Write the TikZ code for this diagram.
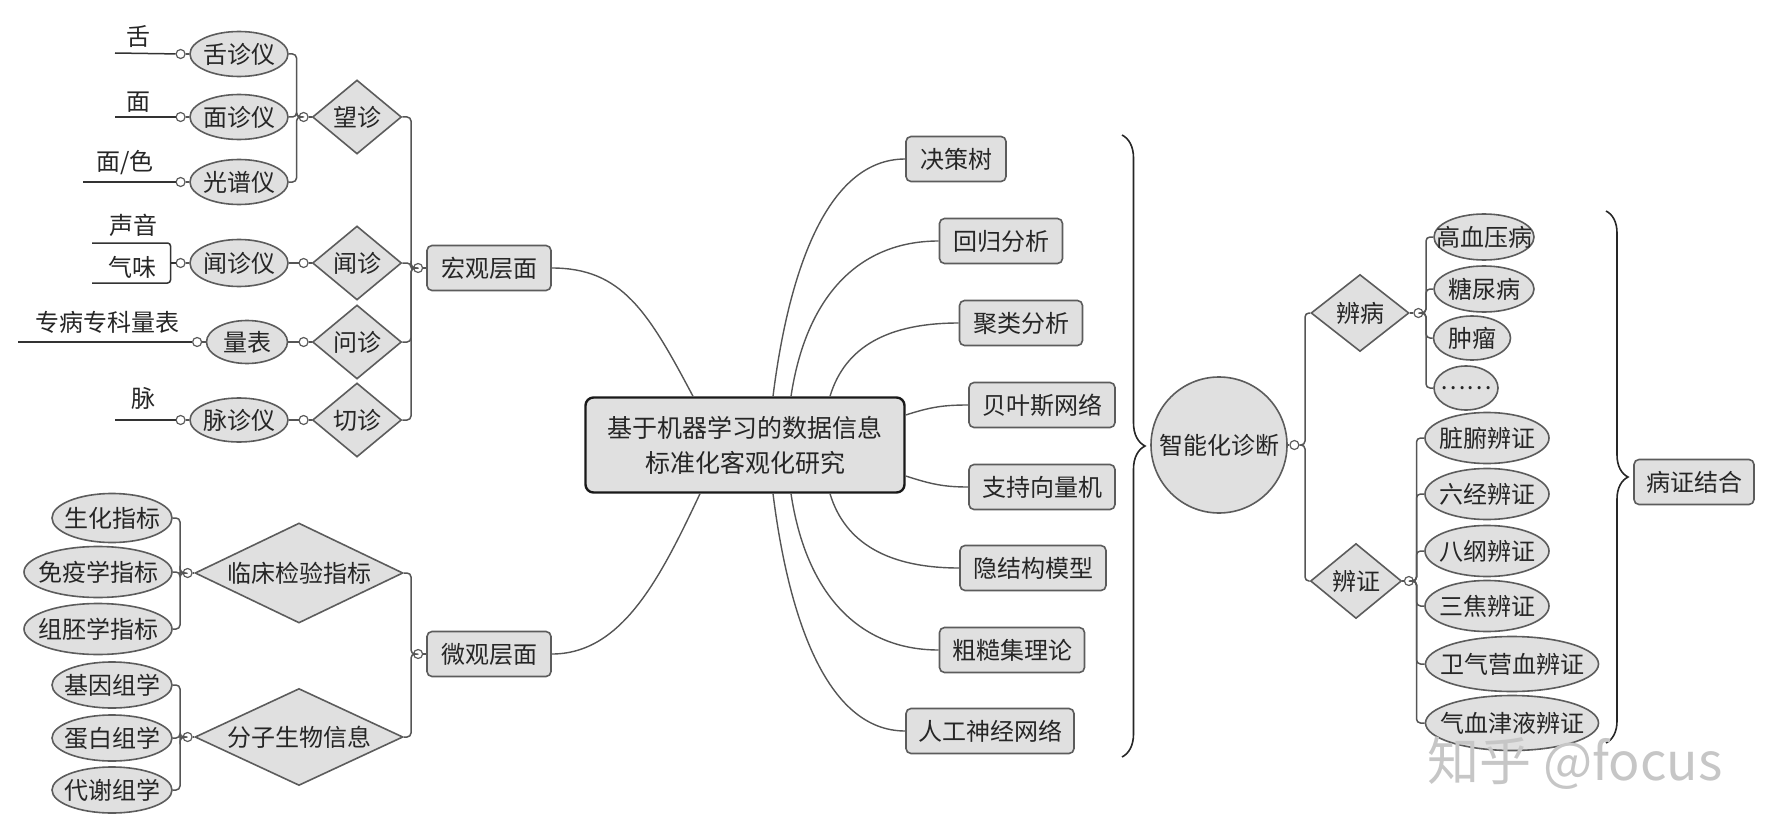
\documentclass[tikz,border=0pt]{standalone}
\usepackage{fontspec}
\setmainfont{Noto Sans CJK SC}
\usetikzlibrary{shapes.geometric, positioning, calc, decorations.pathreplacing}
\definecolor{nodefill}{HTML}{E0E0E0}
\definecolor{nodeline}{HTML}{5C5C5C}
\definecolor{linkcol}{HTML}{555555}

\begin{document}
\begin{tikzpicture}[x=1pt, y=-1pt,
  every node/.style={font=\fontsize{24}{29}\selectfont, text=black!85},
  ell/.style={ellipse, draw=nodeline, fill=nodefill, line width=1.6pt, inner sep=0pt, label={center:#1}},
  dia/.style={diamond, draw=nodeline, fill=nodefill, line width=1.6pt, inner sep=0pt, label={center:#1}},
  rbox/.style={rectangle, rounded corners=5pt, draw=nodeline, fill=nodefill, line width=1.6pt, inner sep=0pt, minimum height=45pt},
  knob/.style={circle, draw=nodeline, fill=white, line width=1.2pt, inner sep=0pt, minimum size=9pt},
  conn/.style={draw=linkcol, line width=1.5pt, rounded corners=4pt},
  lead/.style={draw=black!80, line width=1.5pt, rounded corners=3pt},
  sweep/.style={draw=linkcol, line width=1.4pt},
  brc/.style={draw=black!85, line width=1.6pt, decorate, decoration={brace, amplitude=#1}}]

  \useasboundingbox (0,0) rectangle (1772,832);

  % --- macro level: instruments and the four diagnoses
  \node[ell=舌诊仪, minimum width=98, minimum height=45] (shezhenyi) at (239,54) {};
  \node[ell=面诊仪, minimum width=98, minimum height=45] (mianzhenyi) at (239,117) {};
  \node[ell=光谱仪, minimum width=98, minimum height=45] (guangpuyi) at (239,182) {};
  \node[ell=闻诊仪, minimum width=98, minimum height=47] (wenzhenyi) at (239,263) {};
  \node[ell=量表, minimum width=81, minimum height=43] (liangbiao) at (247,342) {};
  \node[ell=脉诊仪, minimum width=98, minimum height=44] (maizhenyi) at (239,420) {};

  \foreach \e in {shezhenyi, mianzhenyi, guangpuyi, wenzhenyi, liangbiao, maizhenyi} {
    \node[knob, left=3.5pt of \e] (k-\e) {};
    \draw[conn] (k-\e) -- (\e);
  }

  % what each instrument reads
  \node (lb-she) at (138,37) {舌};
  \node (lb-mian) at (138,102) {面};
  \node (lb-mianse) at (125,163) {面/色};
  \node (lb-shengyin) at (133,225) {声音};
  \node (lb-qiwei) at (132,267) {气味};
  \node (lb-liangbiao) at (107,322) {专病专科量表};
  \node (lb-mai) at (143,398) {脉};
  \coordinate (she-end) at (115,53);
  \coordinate (mian-end) at (115,117);
  \coordinate (mianse-end) at (83,182);
  \coordinate (sy-top) at (92,243);
  \coordinate (sy-bot) at (92,283);
  \coordinate (lb-end) at (18,342);
  \coordinate (mai-end) at (115,420);
  \draw[lead] (she-end) -- (k-shezhenyi);
  \draw[lead] (mian-end) -- (k-mianzhenyi);
  \draw[lead] (mianse-end) -- (k-guangpuyi);
  \draw[lead] (sy-top) -| ([xshift=-5pt]k-wenzhenyi.west) |- (sy-bot);
  \draw[lead] ([xshift=-5pt]k-wenzhenyi.west) -- (k-wenzhenyi);
  \draw[lead] (lb-end) -- (k-liangbiao);
  \draw[lead] (mai-end) -- (k-maizhenyi);

  \node[dia=望诊, minimum width=89, minimum height=74] (wangzhen) at (357,117) {};
  \node[dia=闻诊, minimum width=89, minimum height=74] (wenzhen) at (357,263) {};
  \node[dia=问诊, minimum width=89, minimum height=74] (wenzhen2) at (357,342) {};
  \node[dia=切诊, minimum width=89, minimum height=74] (qiezhen) at (357,420) {};
  \foreach \d in {wangzhen, wenzhen, wenzhen2, qiezhen} {
    \node[knob, left=3pt of \d] (k-\d) {};
    \draw[conn] (k-\d) -- (\d);
  }
  \foreach \e in {shezhenyi, mianzhenyi, guangpuyi}
    \draw[conn] (k-wangzhen.west) -- ++(-2,0) |- (\e.east);
  \draw[conn] (wenzhenyi) -- (k-wenzhen);
  \draw[conn] (liangbiao) -- (k-wenzhen2);
  \draw[conn] (maizhenyi) -- (k-qiezhen);

  \node[rbox, minimum width=124] (hongguan) at (489,268) {宏观层面};
  \node[knob, left=3pt of hongguan] (k-hongguan) {};
  \draw[conn] (k-hongguan) -- (hongguan);
  \foreach \d in {wangzhen, wenzhen, wenzhen2, qiezhen}
    \draw[conn] (k-hongguan.west) -- ++(-2,0) |- (\d.east);

  % --- micro level
  \node[ell=生化指标, minimum width=120, minimum height=49] (shenghua) at (112,518) {};
  \node[ell=免疫学指标, minimum width=148, minimum height=51] (mianyi) at (98,572) {};
  \node[ell=组胚学指标, minimum width=148, minimum height=51] (zupei) at (98,629) {};
  \node[ell=基因组学, minimum width=120, minimum height=46] (jiyin) at (112,685) {};
  \node[ell=蛋白组学, minimum width=120, minimum height=46] (danbai) at (112,738) {};
  \node[ell=代谢组学, minimum width=120, minimum height=46] (daixie) at (112,790) {};

  \node[dia=临床检验指标, minimum width=208, minimum height=100] (linchuang) at (299,573) {};
  \node[dia=分子生物信息, minimum width=208, minimum height=97] (fenzi) at (299,737) {};
  \node[knob, left=1.5pt of linchuang] (k-linchuang) {};
  \node[knob, left=1.5pt of fenzi] (k-fenzi) {};
  \draw[conn] (k-linchuang) -- (linchuang);
  \draw[conn] (k-fenzi) -- (fenzi);
  \foreach \e in {shenghua, mianyi, zupei}
    \draw[conn] (k-linchuang.west) -- ++(-2.5,0) |- (\e.east);
  \foreach \e in {jiyin, danbai, daixie}
    \draw[conn] (k-fenzi.west) -- ++(-2.5,0) |- (\e.east);

  \node[rbox, minimum width=124] (weiguan) at (489,654) {微观层面};
  \node[knob, left=3pt of weiguan] (k-weiguan) {};
  \draw[conn] (k-weiguan) -- (weiguan);
  \foreach \d in {linchuang, fenzi}
    \draw[conn] (k-weiguan.west) -- ++(-2,0) |- (\d.east);

  % --- centre
  \node[draw=black!90, fill=nodefill, line width=2.4pt, rounded corners=8pt,
        minimum width=319, minimum height=95, align=center,
        font=\fontsize{25}{35}\selectfont] (ctr) at (745,445)
        {基于机器学习的数据信息\\标准化客观化研究};
  \draw[sweep] (hongguan.east) .. controls +(70,0) and +(-45,-85) .. ($(ctr.north)+(-52,0)$);
  \draw[sweep] (weiguan.east) .. controls +(70,0) and +(-40,85) .. ($(ctr.south)+(-45,0)$);

  % --- learning methods
  \foreach \n/\x/\y/\w/\t in {jueceshu/956/159/100/决策树, huigui/1001/241/123/回归分析,
      julei/1021/323/123/聚类分析, beiyesi/1042/405/146/贝叶斯网络,
      zhichi/1042/487/146/支持向量机, yinjiegou/1033/568/146/隐结构模型,
      cucao/1012/650/145/粗糙集理论, rengong/990/731/168/人工神经网络}
    \node[rbox, minimum width=\w] (\n) at (\x,\y) {\t};

  \draw[sweep] ($(ctr.north)+(28,0)$) .. controls +(15,-120) and +(-80,0) .. (jueceshu.west);
  \draw[sweep] ($(ctr.north)+(46,0)$) .. controls +(15,-100) and +(-80,0) .. (huigui.west);
  \draw[sweep] ($(ctr.north)+(85,0)$) .. controls +(15,-50) and +(-70,0) .. (julei.west);
  \draw[sweep] ($(ctr.east)+(0,-30)$) .. controls +(25,-8) and +(-25,0) .. (beiyesi.west);
  \draw[sweep] ($(ctr.east)+(0,31)$) .. controls +(25,8) and +(-25,0) .. (zhichi.west);
  \draw[sweep] ($(ctr.south)+(85,0)$) .. controls +(15,50) and +(-70,0) .. (yinjiegou.west);
  \draw[sweep] ($(ctr.south)+(46,0)$) .. controls +(15,100) and +(-80,0) .. (cucao.west);
  \draw[sweep] ($(ctr.south)+(28,0)$) .. controls +(15,120) and +(-80,0) .. (rengong.west);

  \coordinate (br1-top) at (1122,135);
  \coordinate (br1-bot) at (1122,757);
  \draw[brc=23pt] (br1-top) -- (br1-bot);

  % --- intelligent diagnosis
  \node[circle, draw=nodeline, fill=nodefill, line width=1.6pt, inner sep=0pt,
        minimum size=136] (zhineng) at (1219,445) {智能化诊断};
  \node[knob, right=1.5pt of zhineng] (k-zhineng) {};
  \draw[conn] (zhineng) -- (k-zhineng);

  \node[dia=辨病, minimum width=98, minimum height=77] (bianbing) at (1360,313) {};
  \node[dia=辨证, minimum width=91, minimum height=75] (bianzheng) at (1356,581) {};
  \foreach \d in {bianbing, bianzheng}
    \draw[conn] (k-zhineng.east) -- ++(5.5,0) |- (\d.west);

  \node[knob, right=3.5pt of bianbing] (k-bianbing) {};
  \node[knob, right=1.5pt of bianzheng] (k-bianzheng) {};
  \draw[conn] (bianbing) -- (k-bianbing);
  \draw[conn] (bianzheng) -- (k-bianzheng);

  \node[ell=高血压病, minimum width=100, minimum height=46] (gaoxueya) at (1484,237) {};
  \node[ell=糖尿病, minimum width=100, minimum height=46] (tangniao) at (1484,289) {};
  \node[ell=肿瘤, minimum width=77, minimum height=44] (zhongliu) at (1472,338) {};
  \node[ell=……, minimum width=64, minimum height=44] (dengdeng) at (1466,388) {};
  \foreach \e in {gaoxueya, tangniao, zhongliu, dengdeng}
    \draw[conn] (k-bianbing.east) -- ++(2.5,0) |- (\e.west);

  \node[ell=脏腑辨证, minimum width=124, minimum height=51] (zangfu) at (1487,438) {};
  \node[ell=六经辨证, minimum width=124, minimum height=51] (liujing) at (1487,494) {};
  \node[ell=八纲辨证, minimum width=124, minimum height=51] (bagang) at (1487,551) {};
  \node[ell=三焦辨证, minimum width=124, minimum height=51] (sanjiao) at (1487,606) {};
  \node[ell=卫气营血辨证, minimum width=173, minimum height=55] (weiqi) at (1512,664) {};
  \node[ell=气血津液辨证, minimum width=173, minimum height=55] (qixue) at (1512,723) {};
  \foreach \e in {zangfu, liujing, bagang, sanjiao, weiqi, qixue}
    \draw[conn] (k-bianzheng.east) -- ++(2.5,0) |- (\e.west);

  \coordinate (br2-top) at (1606,211);
  \coordinate (br2-bot) at (1606,743);
  \draw[brc=22pt] (br2-top) -- (br2-bot);
  \node[rbox, minimum width=120] (bingzheng) at (1694,482) {病证结合};

  % watermark
  \node[font=\fontsize{52}{60}\selectfont, text=gray!45] (wm) at (1575,763) {知乎 @focus};
\end{tikzpicture}
\end{document}
